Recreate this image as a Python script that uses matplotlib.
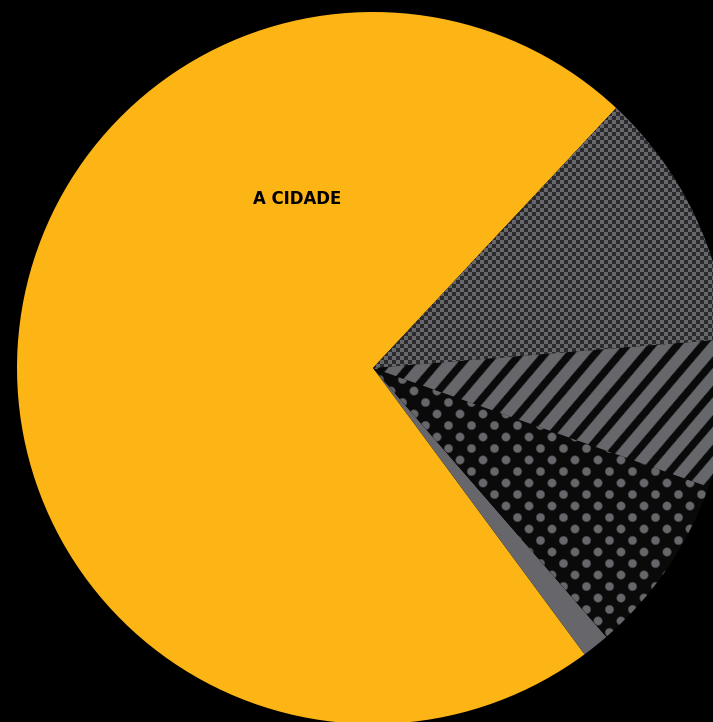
import matplotlib
matplotlib.use("Agg")
import matplotlib.pyplot as plt
import numpy as np

# slice data (share of the circle, %)
labels = ["A CIDADE", "outro 1", "outro 2", "outro 3", "outro 4"]
shares = [72.1, 1.25, 8.2, 6.72, 11.73]
label_text = ["A CIDADE", "", "", "", ""]

# styles
yellow = "#fdb515"
gray = "#67676b"
dark = "#0a0a0a"
base_colors = [yellow, gray, dark, dark, "#2a2a2e"]
patterns = [None, None, "dots", "stripes", "checker"]

W, H = 713, 722
fig = plt.figure(figsize=(W / 100, H / 100), dpi=100, facecolor="black")
ax = fig.add_axes([0, 0, 1, 1])
ax.set_facecolor("black")

cx, cy, r = 373, H - 368, 356
wedges, texts = ax.pie(shares, colors=base_colors, startangle=46.9,
                       counterclock=True, center=(cx, cy), radius=r,
                       frame=True, wedgeprops=dict(linewidth=0))

# pixel grid (x to the right, yd downward) for the textures
X, Yd = np.meshgrid(np.arange(W) + 0.5, np.arange(H) + 0.5)
g = np.array(matplotlib.colors.to_rgb(gray))
k = np.array(matplotlib.colors.to_rgb(dark))


def blend(m):
    m = np.clip(m, 0, 1)[..., None]
    return m * g + (1 - m) * k


def texture(kind):
    if kind == "stripes":
        p = 25.0
        wgray = 16.5
        t = np.mod(X + 0.85 * Yd, p)
        m = np.where(t < wgray, np.clip(np.minimum(t, wgray - t) / 2.0 + 0.2, 0, 1), 0)
        return blend(m)
    if kind == "dots":
        dy, dx = 11.5, 23.0
        row = np.round(Yd / dy)
        off = np.mod(row, 2) * dx / 2
        ccx = np.round((X - off) / dx) * dx + off
        d = np.hypot(X - ccx, Yd - row * dy)
        return blend((4.3 - d) / 1.6 + 0.5)
    if kind == "checker":
        c = 4.0
        m = np.mod(np.floor(X / c) + np.floor(Yd / c), 2)
        img = m[..., None] * g + (1 - m[..., None]) * np.array([0.17, 0.17, 0.18])
        return img
    return None


for w, kind in zip(wedges, patterns):
    img = texture(kind)
    if img is None:
        continue
    im = ax.imshow(img, extent=(0, W, 0, H), origin="upper",
                   interpolation="antialiased", zorder=w.get_zorder() + 0.5)
    im.set_clip_path(w)

ax.text(297.5, H - 199.5, label_text[0], ha="center", va="center",
        fontsize=13.2, fontweight="heavy", fontstretch="condensed", color="black",
        family=["DejaVu Sans"])

ax.set_xlim(0, W)
ax.set_ylim(0, H)
ax.set_aspect("auto")
ax.axis("off")

fig.savefig("out.png", dpi=100, facecolor="black")
